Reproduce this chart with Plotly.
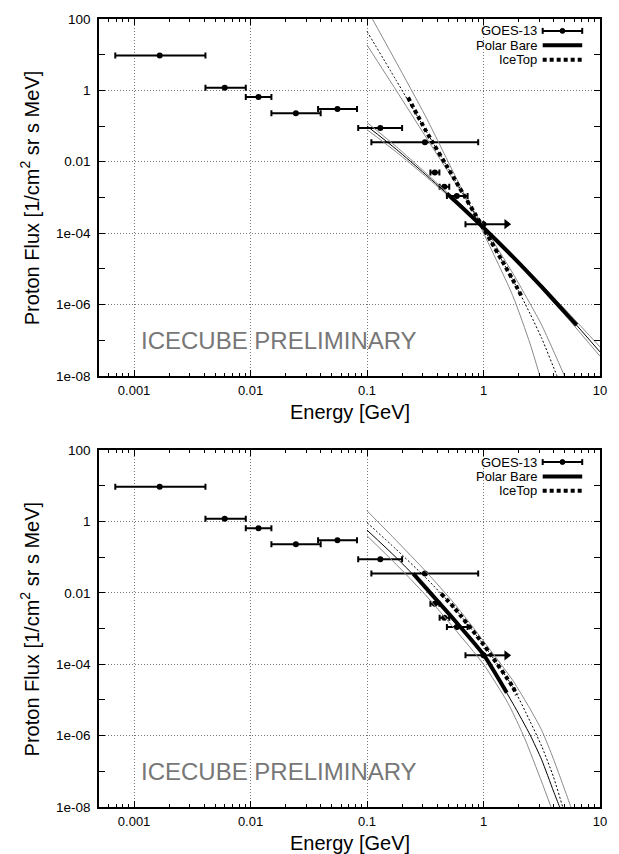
import numpy as np
import plotly.graph_objects as go

# ---------------- data ----------------
# GOES-13 differential proton flux points (energy [GeV], bin edges, flux)
goes_E = [0.00166, 0.0060, 0.0117, 0.0245, 0.0557, 0.130, 0.314, 0.382, 0.461, 0.59]
goes_lo = [0.00069, 0.0041, 0.0091, 0.0151, 0.038, 0.084, 0.109, 0.35, 0.42, 0.485]
goes_hi = [0.0041, 0.0091, 0.0151, 0.040, 0.082, 0.20, 0.90, 0.418, 0.508, 0.73]
goes_F = [9.5, 1.19, 0.65, 0.23, 0.30, 0.088, 0.035, 0.0050, 0.0020, 0.0011]
# GOES-13 integral (lower-limit) point
goes_ul_E = [1.0]
goes_ul_lo = [0.70]
goes_ul_arrow = [1.58]
goes_ul_F = [1.78e-4]

# ---- top panel ----
pb1_E = [0.1, 0.178, 0.316, 0.562, 1.0, 1.78, 3.16, 5.62, 10.0]
pb1_F = [0.100, 0.0224, 0.00447, 8.3e-4, 1.41e-4, 2.19e-5, 3.09e-6, 3.98e-7, 4.68e-8]
pb1_hi = [0.126, 0.0266, 5.01e-3, 8.91e-4, 1.48e-4, 2.37e-5, 3.55e-6, 4.90e-7, 6.46e-8]
pb1_lo = [0.0794, 0.0188, 3.98e-3, 7.76e-4, 1.35e-4, 2.02e-5, 2.69e-6, 3.24e-7, 3.55e-8]
pb1_thick_E = [0.485, 0.562, 1.0, 1.78, 3.16, 5.62, 6.3]
pb1_thick_F = [1.29e-3, 8.3e-4, 1.41e-4, 2.19e-5, 3.09e-6, 3.98e-7, 2.63e-7]

it1_E = [0.1, 0.178, 0.316, 0.562, 1.0, 1.78, 2.51, 3.16, 4.27, 5.01]
it1_F = [44.7, 1.91, 0.0794, 3.31e-3, 1.35e-4, 5.01e-6, 5.50e-7, 1.12e-7, 1.0e-8, 2.51e-9]
it1_hi_E = [0.1, 0.178, 0.316, 0.562, 1.0, 1.78, 2.51, 3.04, 3.55]
it1_hi_F = [186.0, 6.17, 0.195, 4.47e-3, 1.0e-4, 1.78e-6, 7.94e-8, 1.0e-8, 1.58e-9]
it1_lo_E = [0.1, 0.178, 0.316, 0.562, 1.0, 1.78, 2.51, 3.16, 4.95, 5.62]
it1_lo_F = [18.6, 1.0, 0.0525, 2.82e-3, 1.58e-4, 7.59e-6, 1.05e-6, 2.63e-7, 1.0e-8, 3.55e-9]
it1_thick_E = [0.225, 0.316, 0.562, 1.0, 1.78, 2.13]
it1_thick_F = [0.631, 0.0794, 3.31e-3, 1.35e-4, 5.01e-6, 1.66e-6]

# ---- bottom panel ----
pb2_E = [0.1, 0.178, 0.316, 0.562, 1.0, 1.78, 2.51, 3.16, 3.98, 4.50, 5.01]
pb2_F = [0.575, 0.0977, 0.0145, 1.74e-3, 1.86e-4, 8.13e-6, 1.05e-6, 2.09e-7, 2.82e-8, 1.0e-8, 3.55e-9]
pb2_thick_E = [0.249, 0.316, 0.562, 1.0, 1.585]
pb2_thick_F = [0.0347, 0.0145, 1.74e-3, 1.86e-4, 1.58e-5]

it2_E = [0.1, 0.178, 0.316, 0.562, 1.0, 1.78, 2.51, 3.16, 3.98, 4.79, 5.62]
it2_F = [0.933, 0.166, 0.0275, 3.80e-3, 3.55e-4, 2.34e-5, 2.51e-6, 5.01e-7, 7.08e-8, 1.0e-8, 2.0e-9]
it2_thick_E = [0.432, 0.562, 1.0, 1.78, 1.93]
it2_thick_F = [9.55e-3, 3.80e-3, 3.55e-4, 2.34e-5, 1.38e-5]

band2_hi_E = [0.1, 0.178, 0.316, 0.562, 1.0, 1.78, 2.51, 3.16, 3.98, 5.62, 6.31]
band2_hi_F = [2.0, 0.295, 0.0417, 5.01e-3, 4.47e-4, 3.55e-5, 5.62e-6, 1.41e-6, 2.24e-7, 1.0e-8, 3.16e-9]
band2_lo_E = [0.1, 0.178, 0.316, 0.562, 1.0, 1.585, 1.78, 2.24, 3.16, 3.80, 4.47]
band2_lo_F = [0.398, 0.0631, 8.91e-3, 1.0e-3, 1.0e-4, 9.33e-6, 4.47e-6, 8.91e-7, 5.01e-8, 1.0e-8, 2.51e-9]

x_tickvals = [0.001, 0.01, 0.1, 1, 10]
x_ticktext = ["0.001", "0.01", "0.1", "1", "10"]
y_tickvals = [1e2, 1, 1e-2, 1e-4, 1e-6, 1e-8]
y_ticktext = ["100", "1", "0.01", "1e-04", "1e-06", "1e-08"]
y_minorvals = [10, 0.1, 1e-3, 1e-5, 1e-7]
legend_labels = ["GOES-13", "Polar Bare", "IceTop"]
watermark = "ICECUBE PRELIMINARY"

# ---------------- figure ----------------
FONT = "Liberation Sans, Arial, Helvetica, sans-serif"
GRAY = "#8a8a8a"
fig = go.Figure()

def line(xa, ya, E, F, color="black", width=1, dash=None):
    fig.add_trace(go.Scatter(x=E, y=F, xaxis=xa, yaxis=ya, mode="lines",
                             line=dict(color=color, width=width, dash=dash, shape="spline", smoothing=0.6),
                             showlegend=False, hoverinfo="skip"))

def goes(xa, ya):
    E = np.array(goes_E); lo = np.array(goes_lo); hi = np.array(goes_hi)
    fig.add_trace(go.Scatter(x=goes_E, y=goes_F, xaxis=xa, yaxis=ya, mode="markers",
                             marker=dict(color="black", size=6),
                             error_x=dict(type="data", symmetric=False, array=hi - E, arrayminus=E - lo,
                                          width=3, thickness=2, color="black"),
                             showlegend=False))
    Eu = np.array(goes_ul_E); lou = np.array(goes_ul_lo)
    fig.add_trace(go.Scatter(x=goes_ul_E, y=goes_ul_F, xaxis=xa, yaxis=ya, mode="markers",
                             marker=dict(color="black", size=6),
                             error_x=dict(type="data", symmetric=False, array=np.zeros_like(Eu), arrayminus=Eu - lou,
                                          width=3, thickness=2, color="black"),
                             showlegend=False))
    # arrow towards higher energies (integral flux above threshold)
    for e, a, f in zip(goes_ul_E, goes_ul_arrow, goes_ul_F):
        fig.add_trace(go.Scatter(x=[e, a], y=[f, f], xaxis=xa, yaxis=ya, mode="lines",
                                 line=dict(color="black", width=2), showlegend=False, hoverinfo="skip"))
        fig.add_trace(go.Scatter(x=[a], y=[f], xaxis=xa, yaxis=ya, mode="markers",
                                 marker=dict(symbol="triangle-right", size=9, color="black"),
                                 showlegend=False, hoverinfo="skip"))

# top panel
goes("x", "y")
line("x", "y", pb1_E, pb1_hi, GRAY, 1)
line("x", "y", pb1_E, pb1_lo, GRAY, 1)
line("x", "y", pb1_E, pb1_F, "black", 1)
line("x", "y", it1_hi_E, it1_hi_F, GRAY, 1)
line("x", "y", it1_lo_E, it1_lo_F, GRAY, 1)
line("x", "y", it1_E, it1_F, "black", 1, "2px,2px")
line("x", "y", pb1_thick_E, pb1_thick_F, "black", 4)
line("x", "y", it1_thick_E, it1_thick_F, "black", 4, "4px,3px")

# bottom panel
goes("x2", "y2")
line("x2", "y2", band2_hi_E, band2_hi_F, GRAY, 1)
line("x2", "y2", band2_lo_E, band2_lo_F, GRAY, 1)
line("x2", "y2", pb2_E, pb2_F, "black", 1)
line("x2", "y2", it2_E, it2_F, "black", 1, "2px,2px")
line("x2", "y2", pb2_thick_E, pb2_thick_F, "black", 4)
line("x2", "y2", it2_thick_E, it2_thick_F, "black", 4, "4px,3px")

# ---------------- layout ----------------
W, H = 619, 854
ml, mr, mt, mb = 99, 13, 12, 47
ph = H - mt - mb
top_dom = [(807 - 372) / ph, 1.0]
bot_dom = [0.0, (807 - 447) / ph]

minor_x = [m * 10.0 ** k for k in range(-4, 1) for m in range(2, 10)]

def xaxis(anchor):
    return dict(type="log", range=[np.log10(5e-4), 1], anchor=anchor,
                tickvals=x_tickvals, ticktext=x_ticktext, ticks="inside", ticklen=6, tickwidth=1,
                tickcolor="black", showline=True, linecolor="black", linewidth=1.5, mirror="allticks",
                showgrid=True, gridcolor="#777", griddash="1px,2px", gridwidth=1, zeroline=False,
                minor=dict(tickvals=minor_x, ticks="inside", ticklen=3, tickcolor="black", showgrid=False),
                tickfont=dict(family=FONT, size=13, color="black"), ticklabelstandoff=2)

def yaxis(anchor, dom):
    return dict(type="log", range=[-8, 2], domain=dom, anchor=anchor,
                tickvals=y_tickvals, ticktext=y_ticktext, ticks="inside", ticklen=6, tickwidth=1,
                tickcolor="black", showline=True, linecolor="black", linewidth=1.5, mirror="allticks",
                showgrid=True, gridcolor="#777", griddash="1px,2px", gridwidth=1, zeroline=False,
                minor=dict(tickvals=y_minorvals, ticks="inside", ticklen=6, tickcolor="black", showgrid=False),
                tickfont=dict(family=FONT, size=13.5, color="black"), ticklabelstandoff=4)

fig.update_layout(
    width=W, height=H, margin=dict(l=ml, r=mr, t=mt, b=mb),
    plot_bgcolor="white", paper_bgcolor="white", showlegend=False,
    font=dict(family=FONT, color="black"),
    xaxis=xaxis("y"), yaxis=yaxis("x", top_dom),
    xaxis2=xaxis("y2"), yaxis2=yaxis("x2", bot_dom),
)

# titles, watermark, manual gnuplot-style key
pw = W - ml - mr
for xa, ya, ytop in [("x", "y", 12), ("x2", "y2", 447)]:
    xd, yd = xa + " domain", ya + " domain"
    ybot = ytop + 360
    def py(p):
        return (ybot - p) / 360.0
    def px(p):
        return (p - ml) / pw
    fig.add_annotation(xref=xd, yref=yd, x=0.5, y=py(ybot + 36), text="Energy [GeV]",
                       showarrow=False, font=dict(size=20, family=FONT), xanchor="center", yanchor="middle",
                       borderpad=0)
    fig.add_annotation(xref=xd, yref=yd, x=px(29), y=0.5, text="Proton Flux [1/cm<sup>2</sup> sr s MeV]",
                       textangle=-90, showarrow=False, font=dict(size=20, family=FONT),
                       xanchor="center", yanchor="middle")
    fig.add_annotation(xref=xd, yref=yd, x=px(139), y=py(ytop + 324), text=watermark,
                       showarrow=False, font=dict(size=24, family=FONT, color="#777"),
                       xanchor="left", yanchor="middle")
    rows = [ytop + 12, ytop + 26.5, ytop + 41]
    for lab, r in zip(legend_labels, rows):
        fig.add_annotation(xref=xd, yref=yd, x=px(543), y=py(r), text=lab, showarrow=False,
                           font=dict(size=13, family=FONT), xanchor="right", yanchor="middle",
                           borderpad=0)
    # GOES sample
    r = rows[0]
    fig.add_shape(type="line", xref=xd, yref=yd, x0=px(548), x1=px(588), y0=py(r), y1=py(r),
                  line=dict(color="black", width=2))
    for cx in (548, 588):
        fig.add_shape(type="line", xref=xd, yref=yd, x0=px(cx), x1=px(cx), y0=py(r - 3), y1=py(r + 3),
                      line=dict(color="black", width=2))
    fig.add_shape(type="circle", xref=xd, yref=yd, x0=px(565.5), x1=px(570.5), y0=py(r + 2.5), y1=py(r - 2.5),
                  fillcolor="black", line=dict(color="black", width=1))
    # Polar Bare sample
    r = rows[1]
    fig.add_shape(type="line", xref=xd, yref=yd, x0=px(548), x1=px(588), y0=py(r), y1=py(r),
                  line=dict(color="black", width=4))
    # IceTop sample
    r = rows[2]
    fig.add_shape(type="line", xref=xd, yref=yd, x0=px(548), x1=px(588), y0=py(r), y1=py(r),
                  line=dict(color="black", width=4, dash="4px,3px"))

fig.write_html("out.html", config={"displayModeBar": False},
               post_script="document.body.style.margin='0';document.body.style.overflow='hidden';")
